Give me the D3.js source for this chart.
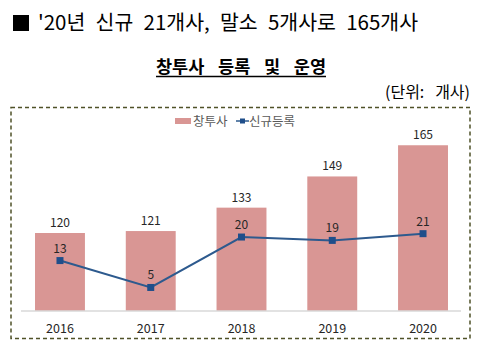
<!DOCTYPE html>
<html><head><meta charset="utf-8">
<script src="https://cdn.jsdelivr.net/npm/d3@7"></script>
<style>body{margin:0;background:#fff}svg{display:block}</style>
</head><body>
<svg id="c" width="481" height="351"></svg>
<script>
const years = ["2016","2017","2018","2019","2020"];
const totalCount = [120,121,133,149,165];
const newReg = [13,5,20,19,21];
const titleText = "'20년 신규 21개사, 말소 5개사로 165개사";
const subTitle = "창투사 등록 및 운영";
const unitText = "(단위: 개사)";
const legendNames = ["창투사","신규등록"];

const svg = d3.select("#c");
const font = "'Noto Sans CJK KR','Noto Sans',sans-serif";

function fitWords(sel, target) {
  const n = (sel.text().match(/ /g) || []).length;
  const len = sel.node().getComputedTextLength();
  if (n > 0) sel.attr("word-spacing", Math.max(0, (target - len) / n));
}

// header
svg.append("rect").attr("x",13).attr("y",15).attr("width",16).attr("height",16).attr("fill","#000");
const tt = svg.append("text").attr("x",38).attr("y",29.5).attr("font-family",font).attr("font-size",20.5)
  .attr("fill","#000").text(titleText);
fitWords(tt, 380);
const st = svg.append("text").attr("x",156).attr("y",73)
  .attr("font-family",font).attr("font-size",17.5).attr("font-weight","bold").attr("fill","#000").text(subTitle);
fitWords(st, 170);
svg.append("line").attr("x1",156).attr("x2",326).attr("y1",76.5).attr("y2",76.5).attr("stroke","#000").attr("stroke-width",1.3);
const ut = svg.append("text").attr("x",385).attr("y",98).attr("font-family",font)
  .attr("font-size",16).attr("fill","#000").text(unitText);
fitWords(ut, 85);

// dashed box
svg.append("rect").attr("x",11).attr("y",107.5).attr("width",459).attr("height",231)
  .attr("fill","none").attr("stroke","#4f5228").attr("stroke-width",1.5).attr("stroke-dasharray","4,3");

const x = d3.scaleBand().domain(years).range([14.6,468.4]).paddingInner(0.45).paddingOuter(0.225);
const y = d3.scaleLinear().domain([80,180]).range([311,116]);
const y2 = d3.scaleLinear().domain([-2,56]).range([311,116]);

const g = svg.append("g");
g.selectAll("rect.bar").data(years).join("rect").attr("class","bar")
  .attr("x",d=>x(d)).attr("width",x.bandwidth())
  .attr("y",(d,i)=>y(totalCount[i])).attr("height",(d,i)=>y(80)-y(totalCount[i]))
  .attr("fill","#d99694");

// baseline axis
const ax = svg.append("g").attr("transform","translate(0,311)")
  .call(d3.axisBottom(x).tickSize(0).tickPadding(13));
ax.select(".domain").attr("stroke","#d9d9d9").attr("stroke-width",1.5).attr("d","M21,0H461");
ax.selectAll("text").attr("font-family",font).attr("font-size",12.5).attr("fill","#262626").attr("font-weight","normal");

g.selectAll("text.bl").data(years).join("text").attr("class","bl")
  .attr("x",d=>x(d)+x.bandwidth()/2).attr("y",(d,i)=>y(totalCount[i])-6)
  .attr("text-anchor","middle").attr("font-family",font).attr("font-size",12).attr("fill","#262626")
  .text((d,i)=>totalCount[i]);

const line = d3.line().x((d,i)=>x(years[i])+x.bandwidth()/2).y(d=>y2(d));
g.append("path").datum(newReg).attr("d",line).attr("fill","none").attr("stroke","#2d5a8e").attr("stroke-width",2);
g.selectAll("rect.m").data(newReg).join("rect").attr("class","m")
  .attr("x",(d,i)=>x(years[i])+x.bandwidth()/2-3.5).attr("y",d=>y2(d)-3.5)
  .attr("width",7).attr("height",7).attr("fill","#1f4e8a");
g.selectAll("text.ll").data(newReg).join("text").attr("class","ll")
  .attr("x",(d,i)=>x(years[i])+x.bandwidth()/2).attr("y",d=>y2(d)-8)
  .attr("text-anchor","middle").attr("font-family",font).attr("font-size",12).attr("fill","#262626")
  .text(d=>d);

// legend
const lg = svg.append("g");
lg.append("rect").attr("x",175).attr("y",118).attr("width",16).attr("height",6).attr("fill","#d99694");
lg.append("text").attr("x",193).attr("y",125.5).attr("font-family",font).attr("font-size",12.5).attr("fill","#595959").text(legendNames[0]);
lg.append("line").attr("x1",236).attr("x2",249).attr("y1",121).attr("y2",121).attr("stroke","#2d5a8e").attr("stroke-width",1.5);
lg.append("rect").attr("x",240).attr("y",118.5).attr("width",5).attr("height",5).attr("fill","#1f4e8a");
lg.append("text").attr("x",249).attr("y",125.5).attr("font-family",font).attr("font-size",12.5).attr("fill","#595959").text(legendNames[1]);
</script>
</body></html>
